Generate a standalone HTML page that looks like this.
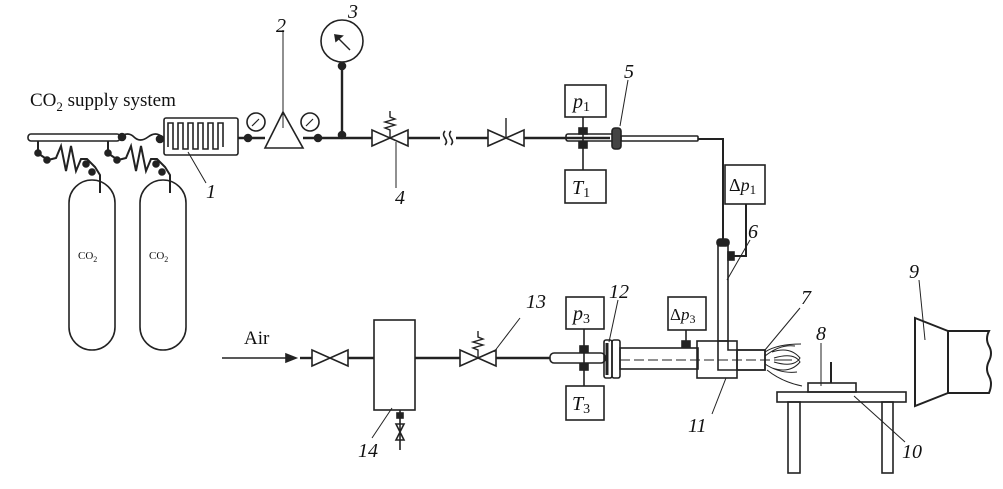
<!DOCTYPE html>
<html><head><meta charset="utf-8"><style>
html,body{margin:0;padding:0;background:#fff;}
svg{display:block;}
text{font-family:"Liberation Serif",serif;fill:#111;}
.n{font-style:italic;font-size:20px;}
</style></head><body>
<svg width="1003" height="489" viewBox="0 0 1003 489" xmlns="http://www.w3.org/2000/svg" fill="none" stroke="#222" stroke-width="1.6">
<!-- CO2 supply -->
<text x="30" y="106" font-size="19" stroke="none">CO<tspan font-size="13" dy="5">2</tspan><tspan dy="-5"> supply system</tspan></text>
<rect x="28" y="134" width="92" height="7" rx="3"/>
<path d="M120 137 q8 -6 14 0 t14 0 t14 0"/>
<circle cx="122" cy="137" r="3.5" fill="#222"/>
<circle cx="160" cy="139" r="3.5" fill="#222"/>
<!-- regulators/springs -->
<path d="M38 141 v10 M36 152 l12 8 l8 -2 l5 -12 l5 25 l5 -25 l5 25 l5 -12 l6 0 l8 8 l5 8 v18" stroke-width="2"/>
<path d="M108 141 v10 M106 152 l12 8 l8 -2 l5 -12 l5 25 l5 -25 l5 25 l5 -12 l6 0 l8 8 l5 8 v18" stroke-width="2"/>
<circle cx="38" cy="153" r="3" fill="#222"/><circle cx="47" cy="160" r="3" fill="#222"/>
<circle cx="108" cy="153" r="3" fill="#222"/><circle cx="117" cy="160" r="3" fill="#222"/>
<circle cx="86" cy="164" r="3" fill="#222"/><circle cx="92" cy="172" r="3" fill="#222"/>
<circle cx="156" cy="164" r="3" fill="#222"/><circle cx="162" cy="172" r="3" fill="#222"/>
<rect x="69" y="180" width="46" height="170" rx="23"/>
<rect x="140" y="180" width="46" height="170" rx="23"/>
<text x="78" y="259" font-size="11" stroke="none">CO<tspan font-size="8" dy="3">2</tspan></text>
<text x="149" y="259" font-size="11" stroke="none">CO<tspan font-size="8" dy="3">2</tspan></text>
<!-- heat exchanger 1 -->
<rect x="164" y="118" width="74" height="37" rx="2"/>
<path d="M168 147 V123 h5 V149 h5 V123 h5 V149 h5 V123 h5 V149 h5 V123 h5 V149 h5 V123 h5 V149 h5 V123 h5 V147"/>
<line x1="188" y1="152" x2="206" y2="183" stroke-width="1"/>
<text class="n" x="206" y="198" stroke="none">1</text>
<!-- main line -->
<line x1="238" y1="138" x2="265" y2="138" stroke-width="2.4"/>
<circle cx="248" cy="138" r="3.5" fill="#222"/>
<path d="M265 148 L283 112 L303 148 Z"/>
<circle cx="256" cy="122" r="9"/><circle cx="310" cy="122" r="9"/>
<path d="M252 126 l7 -7 M306 126 l7 -7" stroke-width="1.2"/>
<line x1="283" y1="128" x2="283" y2="30" stroke-width="1"/>
<text class="n" x="276" y="32" stroke="none">2</text>
<line x1="303" y1="138" x2="372" y2="138" stroke-width="2.4"/>
<circle cx="318" cy="138" r="3.5" fill="#222"/>
<line x1="342" y1="138" x2="342" y2="62" stroke-width="2.4"/>
<circle cx="342" cy="135" r="3.5" fill="#222"/><circle cx="342" cy="66" r="3.5" fill="#222"/>
<circle cx="342" cy="41" r="21"/>
<line x1="350" y1="50" x2="336" y2="36" stroke-width="1.4"/>
<path d="M335 35 l7 1 l-6 5z" fill="#222"/>
<text class="n" x="348" y="18" stroke="none">3</text>
<!-- valve 4 -->
<path d="M372 130 l18 8 l-18 8z M408 130 l-18 8 l18 8z"/>
<path d="M390 138 v-8 l-5 -2 l10 -3 l-10 -3 l10 -3 l-5 -2 v-6" stroke-width="1.4"/>
<line x1="396" y1="142" x2="396" y2="188" stroke-width="1"/>
<text class="n" x="395" y="204" stroke="none">4</text>
<line x1="408" y1="138" x2="440" y2="138" stroke-width="2.4"/>
<path d="M445 131 q-3 3 0 7 t0 7 M451 131 q-3 3 0 7 t0 7"/>
<line x1="456" y1="138" x2="488" y2="138" stroke-width="2.4"/>
<path d="M488 130 l18 8 l-18 8z M524 130 l-18 8 l18 8z"/>
<line x1="506" y1="138" x2="506" y2="118" stroke-width="1.4"/>
<line x1="524" y1="138" x2="610" y2="138" stroke-width="2.4"/>
<rect x="566" y="134" width="48" height="7" rx="2"/>
<!-- p1 T1 -->
<rect x="565" y="85" width="41" height="32"/>
<text class="n" x="573" y="108" stroke="none">p<tspan font-size="14" font-style="normal" dy="3">1</tspan></text>
<rect x="565" y="170" width="41" height="33"/>
<text class="n" x="572" y="194" stroke="none">T<tspan font-size="14" font-style="normal" dy="3">1</tspan></text>
<line x1="583" y1="117" x2="583" y2="170" stroke-width="1.6"/>
<rect x="579" y="128" width="8" height="6" fill="#222"/><rect x="579" y="142" width="8" height="6" fill="#222"/>
<!-- flange 5 -->
<rect x="612" y="128" width="9" height="21" rx="3" fill="#444"/>
<rect x="621" y="136" width="77" height="5" rx="1"/>
<line x1="620" y1="126" x2="628" y2="80" stroke-width="1"/>
<text class="n" x="624" y="78" stroke="none">5</text>
<path d="M698 139 H723 V240" stroke-width="2"/>
<!-- dp1 -->
<rect x="725" y="165" width="40" height="39"/>
<text x="729" y="191" font-size="18" stroke="none">Δ<tspan font-style="italic">p</tspan><tspan font-size="13" dy="3">1</tspan></text>
<path d="M746 204 V256 H728" stroke-width="2"/>
<rect x="718" y="241" width="10" height="100"/>
<rect x="717" y="239" width="12" height="7" rx="3" fill="#222"/>
<rect x="728" y="252" width="6" height="8" fill="#222"/>
<line x1="727" y1="280" x2="750" y2="240" stroke-width="1"/>
<text class="n" x="748" y="238" stroke="none">6</text>
<!-- bottom air line -->
<text x="244" y="344" font-size="19" stroke="none">Air</text>
<line x1="222" y1="358" x2="290" y2="358" stroke-width="1.4"/>
<path d="M296 358 l-10 -4 v8z" fill="#222"/>
<line x1="300" y1="358" x2="312" y2="358" stroke-width="2.4"/>
<path d="M312 350 l18 8 l-18 8z M348 350 l-18 8 l18 8z"/>
<line x1="348" y1="358" x2="374" y2="358" stroke-width="2.4"/>
<rect x="374" y="320" width="41" height="90"/>
<line x1="400" y1="410" x2="400" y2="450" stroke-width="1.6"/>
<rect x="397" y="413" width="6" height="5" fill="#222"/>
<path d="M396 424 l4 8 l4 -8z M396 440 l4 -8 l4 8z"/>
<line x1="392" y1="408" x2="372" y2="438" stroke-width="1"/>
<text class="n" x="358" y="457" stroke="none">14</text>
<line x1="415" y1="358" x2="460" y2="358" stroke-width="2.4"/>
<path d="M460 350 l18 8 l-18 8z M496 350 l-18 8 l18 8z"/>
<path d="M478 358 v-8 l-5 -2 l10 -3 l-10 -3 l10 -3 l-5 -2 v-6" stroke-width="1.4"/>
<line x1="494" y1="352" x2="520" y2="318" stroke-width="1"/>
<text class="n" x="526" y="308" stroke="none">13</text>
<line x1="496" y1="358" x2="550" y2="358" stroke-width="2.4"/>
<rect x="550" y="353" width="55" height="10" rx="4"/>
<rect x="566" y="297" width="38" height="32"/>
<text class="n" x="573" y="320" stroke="none">p<tspan font-size="14" font-style="normal" dy="3">3</tspan></text>
<rect x="566" y="386" width="38" height="34"/>
<text class="n" x="572" y="410" stroke="none">T<tspan font-size="14" font-style="normal" dy="3">3</tspan></text>
<line x1="584" y1="329" x2="584" y2="386" stroke-width="1.6"/>
<rect x="580" y="346" width="8" height="6" fill="#222"/><rect x="580" y="364" width="8" height="6" fill="#222"/>
<!-- flange 12 -->
<rect x="604" y="340" width="8" height="38" rx="2"/>
<rect x="612" y="340" width="8" height="38" rx="2"/>
<path d="M607 343 v32" stroke-width="3"/>
<line x1="609" y1="342" x2="618" y2="300" stroke-width="1"/>
<text class="n" x="609" y="298" stroke="none">12</text>
<rect x="620" y="348" width="78" height="21"/>
<line x1="620" y1="360" x2="780" y2="360" stroke-width="1" stroke-dasharray="10 4"/>
<!-- dp3 -->
<rect x="668" y="297" width="38" height="33"/>
<text x="670" y="320" font-size="17" stroke="none">Δ<tspan font-style="italic">p</tspan><tspan font-size="12" dy="3">3</tspan></text>
<line x1="686" y1="330" x2="686" y2="348" stroke-width="1.6"/>
<rect x="682" y="341" width="8" height="6" fill="#222"/>
<!-- body 11 -->
<rect x="697" y="341" width="40" height="37"/>
<path d="M718 341 V370 H765 V350 H728 V341"/>
<rect x="737" y="350" width="28" height="20"/>
<line x1="726" y1="378" x2="712" y2="414" stroke-width="1"/>
<text class="n" x="688" y="432" stroke="none">11</text>
<!-- flame 7 -->
<path d="M765 356 q15 -12 30 -10 M765 352 q12 -8 36 -8 M765 364 q15 10 32 8 M767 370 q15 12 35 16 M772 352 q18 -6 28 6 q-6 10 -26 4 M772 368 q18 6 28 -6 q-6 -10 -26 -4 M778 360 h14" stroke-width="1"/>
<line x1="765" y1="350" x2="800" y2="308" stroke-width="1"/>
<text class="n" x="801" y="304" stroke="none">7</text>
<!-- table -->
<rect x="777" y="392" width="129" height="10"/>
<rect x="788" y="402" width="12" height="71"/>
<rect x="882" y="402" width="11" height="71"/>
<rect x="808" y="383" width="48" height="9"/>
<line x1="831" y1="362" x2="831" y2="383" stroke-width="2"/>
<line x1="821" y1="343" x2="821" y2="386" stroke-width="1"/>
<text class="n" x="816" y="340" stroke="none">8</text>
<line x1="854" y1="396" x2="905" y2="442" stroke-width="1"/>
<text class="n" x="902" y="458" stroke="none">10</text>
<!-- fan 9 -->
<path d="M915 318 L948 331 V393 L915 406 Z" stroke-width="2"/>
<path d="M948 331 H989 q-4 8 0 15 t0 15 t0 15 t0 17 H948" stroke-width="2"/>
<line x1="919" y1="280" x2="925" y2="340" stroke-width="1"/>
<text class="n" x="909" y="278" stroke="none">9</text>
</svg>
</body></html>
